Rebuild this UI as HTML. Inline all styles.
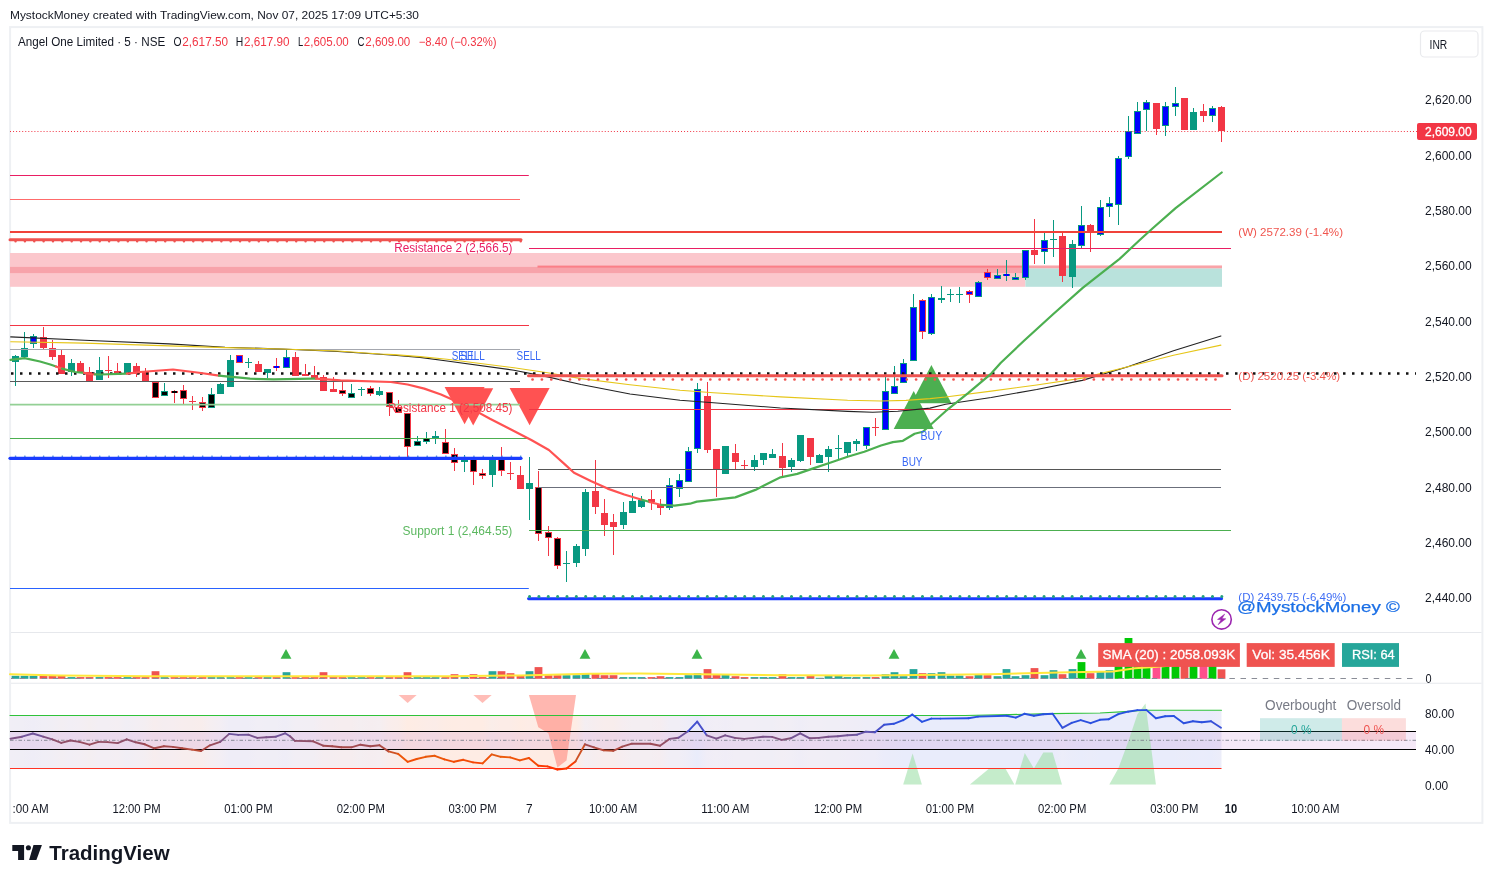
<!DOCTYPE html>
<html><head><meta charset="utf-8"><title>Angel One Limited chart</title>
<style>html,body{margin:0;padding:0;background:#fff}svg{display:block;font-family:"Liberation Sans", sans-serif}</style>
</head><body>
<svg width="1492" height="883" viewBox="0 0 1492 883">
<rect x="0" y="0" width="1492" height="883" fill="#fff"/>
<rect x="10.1" y="27.1" width="1472.3" height="795.8" fill="#ffffff" stroke="#eef0f3" stroke-width="2"/>
<line x1="11.0" y1="632.5" x2="1481.5" y2="632.5" stroke="#e6e8ec" stroke-width="1.1"/>
<line x1="11.0" y1="683.3" x2="1481.5" y2="683.3" stroke="#e6e8ec" stroke-width="1.1"/>
<text x="10.0" y="18.8" font-size="11" fill="#131722" textLength="409.0" lengthAdjust="spacingAndGlyphs">MystockMoney created with TradingView.com, Nov 07, 2025 17:09 UTC+5:30</text>
<rect x="10.0" y="253.0" width="1015.4" height="33.8" fill="#fbc7cc"/>
<rect x="10.0" y="266.9" width="1015.4" height="6.2" fill="#f7a3aa"/>
<rect x="1025.4" y="268.3" width="196.6" height="18.5" fill="#b9e2dc"/>
<rect x="537.5" y="265.6" width="684.5" height="2.0" fill="#fb7f87"/>
<rect x="1025.4" y="266.0" width="196.6" height="2.3" fill="#f9a3a8"/>
<rect x="15.0" y="355.0" width="1.0" height="31.0" fill="#089981"/>
<rect x="12.0" y="356.0" width="7.0" height="6.0" fill="#089981"/>
<rect x="24.0" y="332.0" width="1.0" height="27.0" fill="#089981"/>
<rect x="21.0" y="348.0" width="7.0" height="9.0" fill="#089981"/>
<rect x="33.0" y="334.0" width="1.0" height="14.0" fill="#089981"/>
<rect x="30.0" y="336.0" width="7.0" height="8.0" fill="#089981"/>
<rect x="31.0" y="337.0" width="5.0" height="6.0" fill="#0000ff"/>
<rect x="43.0" y="327.0" width="1.0" height="22.0" fill="#f23645"/>
<rect x="40.0" y="337.0" width="7.0" height="11.0" fill="#f23645"/>
<rect x="52.0" y="340.0" width="1.0" height="20.0" fill="#f23645"/>
<rect x="49.0" y="348.0" width="7.0" height="9.0" fill="#f23645"/>
<rect x="61.0" y="350.0" width="1.0" height="24.0" fill="#f23645"/>
<rect x="58.0" y="355.0" width="7.0" height="19.0" fill="#f23645"/>
<rect x="71.0" y="359.0" width="1.0" height="17.0" fill="#089981"/>
<rect x="68.0" y="363.0" width="7.0" height="9.0" fill="#089981"/>
<rect x="80.0" y="361.0" width="1.0" height="11.0" fill="#f23645"/>
<rect x="77.0" y="363.0" width="7.0" height="9.0" fill="#f23645"/>
<rect x="89.0" y="367.0" width="1.0" height="14.0" fill="#f23645"/>
<rect x="86.0" y="372.0" width="7.0" height="9.0" fill="#f23645"/>
<rect x="99.0" y="357.0" width="1.0" height="23.0" fill="#089981"/>
<rect x="96.0" y="370.0" width="7.0" height="10.0" fill="#089981"/>
<rect x="108.0" y="356.0" width="1.0" height="22.0" fill="#f23645"/>
<rect x="105.0" y="370.0" width="7.0" height="1.0" fill="#f23645"/>
<rect x="117.0" y="363.0" width="1.0" height="11.0" fill="#f23645"/>
<rect x="114.0" y="371.0" width="7.0" height="3.0" fill="#f23645"/>
<rect x="127.0" y="363.0" width="1.0" height="11.0" fill="#089981"/>
<rect x="124.0" y="363.0" width="7.0" height="11.0" fill="#089981"/>
<rect x="136.0" y="363.0" width="1.0" height="14.0" fill="#f23645"/>
<rect x="133.0" y="366.0" width="7.0" height="8.0" fill="#f23645"/>
<rect x="145.0" y="368.0" width="1.0" height="13.0" fill="#f23645"/>
<rect x="142.0" y="371.0" width="7.0" height="10.0" fill="#f23645"/>
<rect x="155.0" y="382.0" width="1.0" height="16.0" fill="#f23645"/>
<rect x="152.0" y="382.0" width="7.0" height="16.0" fill="#f23645"/>
<rect x="153.0" y="383.0" width="5.0" height="14.0" fill="#000000"/>
<rect x="164.0" y="383.0" width="1.0" height="13.0" fill="#089981"/>
<rect x="161.0" y="391.0" width="7.0" height="5.0" fill="#089981"/>
<rect x="162.0" y="392.0" width="5.0" height="3.0" fill="#000000"/>
<rect x="174.0" y="390.0" width="1.0" height="13.0" fill="#f23645"/>
<rect x="171.0" y="391.0" width="7.0" height="2.0" fill="#f23645"/>
<rect x="172.0" y="391.0" width="5.0" height="2.0" fill="#000000"/>
<rect x="183.0" y="385.0" width="1.0" height="19.0" fill="#f23645"/>
<rect x="180.0" y="390.0" width="7.0" height="9.0" fill="#f23645"/>
<rect x="181.0" y="391.0" width="5.0" height="7.0" fill="#000000"/>
<rect x="192.0" y="396.0" width="1.0" height="14.0" fill="#f23645"/>
<rect x="189.0" y="401.0" width="7.0" height="1.0" fill="#f23645"/>
<rect x="202.0" y="397.0" width="1.0" height="14.0" fill="#f23645"/>
<rect x="199.0" y="402.0" width="7.0" height="6.0" fill="#f23645"/>
<rect x="200.0" y="403.0" width="5.0" height="4.0" fill="#000000"/>
<rect x="211.0" y="388.0" width="1.0" height="20.0" fill="#089981"/>
<rect x="208.0" y="394.0" width="7.0" height="14.0" fill="#089981"/>
<rect x="209.0" y="395.0" width="5.0" height="12.0" fill="#000000"/>
<rect x="220.0" y="383.0" width="1.0" height="11.0" fill="#089981"/>
<rect x="217.0" y="384.0" width="7.0" height="10.0" fill="#089981"/>
<rect x="230.0" y="355.0" width="1.0" height="32.0" fill="#089981"/>
<rect x="227.0" y="360.0" width="7.0" height="27.0" fill="#089981"/>
<rect x="239.0" y="355.0" width="1.0" height="8.0" fill="#f23645"/>
<rect x="236.0" y="355.0" width="7.0" height="8.0" fill="#f23645"/>
<rect x="237.0" y="356.0" width="5.0" height="6.0" fill="#0000ff"/>
<rect x="248.0" y="358.0" width="1.0" height="10.0" fill="#089981"/>
<rect x="245.0" y="362.0" width="7.0" height="1.0" fill="#089981"/>
<rect x="258.0" y="361.0" width="1.0" height="11.0" fill="#f23645"/>
<rect x="255.0" y="364.0" width="7.0" height="8.0" fill="#f23645"/>
<rect x="267.0" y="369.0" width="1.0" height="9.0" fill="#089981"/>
<rect x="264.0" y="369.0" width="7.0" height="4.0" fill="#089981"/>
<rect x="276.0" y="358.0" width="1.0" height="13.0" fill="#f23645"/>
<rect x="273.0" y="366.0" width="7.0" height="2.0" fill="#f23645"/>
<rect x="274.0" y="366.0" width="5.0" height="2.0" fill="#0000ff"/>
<rect x="286.0" y="350.0" width="1.0" height="18.0" fill="#089981"/>
<rect x="283.0" y="357.0" width="7.0" height="11.0" fill="#089981"/>
<rect x="284.0" y="358.0" width="5.0" height="9.0" fill="#0000ff"/>
<rect x="295.0" y="352.0" width="1.0" height="24.0" fill="#f23645"/>
<rect x="292.0" y="357.0" width="7.0" height="19.0" fill="#f23645"/>
<rect x="305.0" y="364.0" width="1.0" height="12.0" fill="#f23645"/>
<rect x="302.0" y="374.0" width="7.0" height="2.0" fill="#f23645"/>
<rect x="314.0" y="366.0" width="1.0" height="13.0" fill="#f23645"/>
<rect x="311.0" y="375.0" width="7.0" height="4.0" fill="#f23645"/>
<rect x="323.0" y="375.0" width="1.0" height="16.0" fill="#f23645"/>
<rect x="320.0" y="377.0" width="7.0" height="14.0" fill="#f23645"/>
<rect x="333.0" y="377.0" width="1.0" height="15.0" fill="#f23645"/>
<rect x="330.0" y="389.0" width="7.0" height="3.0" fill="#f23645"/>
<rect x="342.0" y="380.0" width="1.0" height="16.0" fill="#f23645"/>
<rect x="339.0" y="390.0" width="7.0" height="4.0" fill="#f23645"/>
<rect x="340.0" y="391.0" width="5.0" height="2.0" fill="#000000"/>
<rect x="351.0" y="384.0" width="1.0" height="14.0" fill="#089981"/>
<rect x="348.0" y="393.0" width="7.0" height="5.0" fill="#089981"/>
<rect x="349.0" y="394.0" width="5.0" height="3.0" fill="#000000"/>
<rect x="361.0" y="387.0" width="1.0" height="9.0" fill="#089981"/>
<rect x="358.0" y="389.0" width="7.0" height="1.0" fill="#089981"/>
<rect x="370.0" y="386.0" width="1.0" height="10.0" fill="#f23645"/>
<rect x="367.0" y="388.0" width="7.0" height="6.0" fill="#f23645"/>
<rect x="368.0" y="389.0" width="5.0" height="4.0" fill="#000000"/>
<rect x="379.0" y="387.0" width="1.0" height="9.0" fill="#089981"/>
<rect x="376.0" y="391.0" width="7.0" height="4.0" fill="#089981"/>
<rect x="389.0" y="392.0" width="1.0" height="24.0" fill="#f23645"/>
<rect x="386.0" y="392.0" width="7.0" height="15.0" fill="#f23645"/>
<rect x="387.0" y="393.0" width="5.0" height="13.0" fill="#000000"/>
<rect x="398.0" y="400.0" width="1.0" height="13.0" fill="#f23645"/>
<rect x="395.0" y="407.0" width="7.0" height="6.0" fill="#f23645"/>
<rect x="396.0" y="408.0" width="5.0" height="4.0" fill="#000000"/>
<rect x="407.0" y="413.0" width="1.0" height="46.0" fill="#f23645"/>
<rect x="404.0" y="413.0" width="7.0" height="34.0" fill="#f23645"/>
<rect x="405.0" y="414.0" width="5.0" height="32.0" fill="#000000"/>
<rect x="417.0" y="436.0" width="1.0" height="10.0" fill="#089981"/>
<rect x="414.0" y="441.0" width="7.0" height="5.0" fill="#089981"/>
<rect x="415.0" y="442.0" width="5.0" height="3.0" fill="#000000"/>
<rect x="426.0" y="432.0" width="1.0" height="12.0" fill="#089981"/>
<rect x="423.0" y="438.0" width="7.0" height="4.0" fill="#089981"/>
<rect x="424.0" y="439.0" width="5.0" height="2.0" fill="#000000"/>
<rect x="435.0" y="431.0" width="1.0" height="13.0" fill="#089981"/>
<rect x="432.0" y="436.0" width="7.0" height="2.0" fill="#089981"/>
<rect x="445.0" y="429.0" width="1.0" height="25.0" fill="#f23645"/>
<rect x="442.0" y="442.0" width="7.0" height="12.0" fill="#f23645"/>
<rect x="443.0" y="443.0" width="5.0" height="10.0" fill="#000000"/>
<rect x="454.0" y="448.0" width="1.0" height="23.0" fill="#f23645"/>
<rect x="451.0" y="454.0" width="7.0" height="9.0" fill="#f23645"/>
<rect x="452.0" y="455.0" width="5.0" height="7.0" fill="#000000"/>
<rect x="464.0" y="455.0" width="1.0" height="17.0" fill="#089981"/>
<rect x="461.0" y="460.0" width="7.0" height="2.0" fill="#089981"/>
<rect x="473.0" y="459.0" width="1.0" height="26.0" fill="#f23645"/>
<rect x="470.0" y="459.0" width="7.0" height="13.0" fill="#f23645"/>
<rect x="471.0" y="460.0" width="5.0" height="11.0" fill="#000000"/>
<rect x="482.0" y="469.0" width="1.0" height="10.0" fill="#f23645"/>
<rect x="479.0" y="473.0" width="7.0" height="3.0" fill="#f23645"/>
<rect x="480.0" y="474.0" width="5.0" height="1.0" fill="#000000"/>
<rect x="492.0" y="455.0" width="1.0" height="32.0" fill="#089981"/>
<rect x="489.0" y="459.0" width="7.0" height="16.0" fill="#089981"/>
<rect x="501.0" y="447.0" width="1.0" height="29.0" fill="#f23645"/>
<rect x="498.0" y="459.0" width="7.0" height="12.0" fill="#f23645"/>
<rect x="499.0" y="460.0" width="5.0" height="10.0" fill="#000000"/>
<rect x="510.0" y="462.0" width="1.0" height="18.0" fill="#f23645"/>
<rect x="507.0" y="473.0" width="7.0" height="1.0" fill="#f23645"/>
<rect x="520.0" y="466.0" width="1.0" height="23.0" fill="#f23645"/>
<rect x="517.0" y="475.0" width="7.0" height="14.0" fill="#f23645"/>
<rect x="529.0" y="457.0" width="1.0" height="63.0" fill="#089981"/>
<rect x="526.0" y="483.0" width="7.0" height="6.0" fill="#089981"/>
<rect x="538.0" y="471.0" width="1.0" height="70.0" fill="#f23645"/>
<rect x="535.0" y="487.0" width="7.0" height="47.0" fill="#f23645"/>
<rect x="536.0" y="488.0" width="5.0" height="45.0" fill="#000000"/>
<rect x="548.0" y="526.0" width="1.0" height="30.0" fill="#f23645"/>
<rect x="545.0" y="532.0" width="7.0" height="6.0" fill="#f23645"/>
<rect x="546.0" y="533.0" width="5.0" height="4.0" fill="#000000"/>
<rect x="557.0" y="537.0" width="1.0" height="32.0" fill="#f23645"/>
<rect x="554.0" y="538.0" width="7.0" height="28.0" fill="#f23645"/>
<rect x="555.0" y="539.0" width="5.0" height="26.0" fill="#000000"/>
<rect x="566.0" y="551.0" width="1.0" height="31.0" fill="#089981"/>
<rect x="563.0" y="563.0" width="7.0" height="1.0" fill="#089981"/>
<rect x="576.0" y="544.0" width="1.0" height="23.0" fill="#089981"/>
<rect x="573.0" y="546.0" width="7.0" height="17.0" fill="#089981"/>
<rect x="585.0" y="489.0" width="1.0" height="67.0" fill="#089981"/>
<rect x="582.0" y="492.0" width="7.0" height="57.0" fill="#089981"/>
<rect x="595.0" y="460.0" width="1.0" height="54.0" fill="#f23645"/>
<rect x="592.0" y="491.0" width="7.0" height="16.0" fill="#f23645"/>
<rect x="604.0" y="499.0" width="1.0" height="37.0" fill="#f23645"/>
<rect x="601.0" y="513.0" width="7.0" height="12.0" fill="#f23645"/>
<rect x="613.0" y="514.0" width="1.0" height="41.0" fill="#f23645"/>
<rect x="610.0" y="522.0" width="7.0" height="5.0" fill="#f23645"/>
<rect x="623.0" y="502.0" width="1.0" height="27.0" fill="#089981"/>
<rect x="620.0" y="512.0" width="7.0" height="13.0" fill="#089981"/>
<rect x="632.0" y="493.0" width="1.0" height="20.0" fill="#089981"/>
<rect x="629.0" y="501.0" width="7.0" height="12.0" fill="#089981"/>
<rect x="641.0" y="496.0" width="1.0" height="12.0" fill="#089981"/>
<rect x="638.0" y="500.0" width="7.0" height="7.0" fill="#089981"/>
<rect x="651.0" y="490.0" width="1.0" height="20.0" fill="#f23645"/>
<rect x="648.0" y="499.0" width="7.0" height="3.0" fill="#f23645"/>
<rect x="660.0" y="499.0" width="1.0" height="16.0" fill="#f23645"/>
<rect x="657.0" y="504.0" width="7.0" height="4.0" fill="#f23645"/>
<rect x="669.0" y="478.0" width="1.0" height="32.0" fill="#089981"/>
<rect x="666.0" y="485.0" width="7.0" height="23.0" fill="#089981"/>
<rect x="667.0" y="486.0" width="5.0" height="21.0" fill="#0000ff"/>
<rect x="679.0" y="474.0" width="1.0" height="23.0" fill="#089981"/>
<rect x="676.0" y="480.0" width="7.0" height="9.0" fill="#089981"/>
<rect x="677.0" y="481.0" width="5.0" height="7.0" fill="#0000ff"/>
<rect x="688.0" y="447.0" width="1.0" height="35.0" fill="#089981"/>
<rect x="685.0" y="451.0" width="7.0" height="31.0" fill="#089981"/>
<rect x="686.0" y="452.0" width="5.0" height="29.0" fill="#0000ff"/>
<rect x="697.0" y="383.0" width="1.0" height="70.0" fill="#089981"/>
<rect x="694.0" y="389.0" width="7.0" height="60.0" fill="#089981"/>
<rect x="695.0" y="390.0" width="5.0" height="58.0" fill="#0000ff"/>
<rect x="707.0" y="382.0" width="1.0" height="71.0" fill="#f23645"/>
<rect x="704.0" y="396.0" width="7.0" height="54.0" fill="#f23645"/>
<rect x="716.0" y="449.0" width="1.0" height="48.0" fill="#f23645"/>
<rect x="713.0" y="449.0" width="7.0" height="20.0" fill="#f23645"/>
<rect x="725.0" y="446.0" width="1.0" height="28.0" fill="#089981"/>
<rect x="722.0" y="446.0" width="7.0" height="28.0" fill="#089981"/>
<rect x="735.0" y="444.0" width="1.0" height="25.0" fill="#f23645"/>
<rect x="732.0" y="453.0" width="7.0" height="9.0" fill="#f23645"/>
<rect x="744.0" y="460.0" width="1.0" height="9.0" fill="#f23645"/>
<rect x="741.0" y="465.0" width="7.0" height="1.0" fill="#f23645"/>
<rect x="754.0" y="455.0" width="1.0" height="16.0" fill="#089981"/>
<rect x="751.0" y="460.0" width="7.0" height="7.0" fill="#089981"/>
<rect x="763.0" y="453.0" width="1.0" height="12.0" fill="#089981"/>
<rect x="760.0" y="453.0" width="7.0" height="7.0" fill="#089981"/>
<rect x="772.0" y="449.0" width="1.0" height="9.0" fill="#089981"/>
<rect x="769.0" y="454.0" width="7.0" height="4.0" fill="#089981"/>
<rect x="782.0" y="443.0" width="1.0" height="33.0" fill="#f23645"/>
<rect x="779.0" y="456.0" width="7.0" height="12.0" fill="#f23645"/>
<rect x="791.0" y="458.0" width="1.0" height="14.0" fill="#089981"/>
<rect x="788.0" y="460.0" width="7.0" height="7.0" fill="#089981"/>
<rect x="800.0" y="435.0" width="1.0" height="27.0" fill="#089981"/>
<rect x="797.0" y="435.0" width="7.0" height="26.0" fill="#089981"/>
<rect x="810.0" y="438.0" width="1.0" height="27.0" fill="#f23645"/>
<rect x="807.0" y="438.0" width="7.0" height="19.0" fill="#f23645"/>
<rect x="819.0" y="454.0" width="1.0" height="9.0" fill="#089981"/>
<rect x="816.0" y="455.0" width="7.0" height="8.0" fill="#089981"/>
<rect x="828.0" y="446.0" width="1.0" height="26.0" fill="#089981"/>
<rect x="825.0" y="449.0" width="7.0" height="8.0" fill="#089981"/>
<rect x="838.0" y="435.0" width="1.0" height="25.0" fill="#089981"/>
<rect x="835.0" y="448.0" width="7.0" height="1.0" fill="#089981"/>
<rect x="847.0" y="442.0" width="1.0" height="15.0" fill="#089981"/>
<rect x="844.0" y="442.0" width="7.0" height="11.0" fill="#089981"/>
<rect x="856.0" y="439.0" width="1.0" height="12.0" fill="#089981"/>
<rect x="853.0" y="441.0" width="7.0" height="3.0" fill="#089981"/>
<rect x="866.0" y="427.0" width="1.0" height="22.0" fill="#089981"/>
<rect x="863.0" y="427.0" width="7.0" height="19.0" fill="#089981"/>
<rect x="864.0" y="428.0" width="5.0" height="17.0" fill="#0000ff"/>
<rect x="875.0" y="418.0" width="1.0" height="18.0" fill="#f23645"/>
<rect x="872.0" y="427.0" width="7.0" height="1.0" fill="#f23645"/>
<rect x="885.0" y="377.0" width="1.0" height="53.0" fill="#089981"/>
<rect x="882.0" y="391.0" width="7.0" height="39.0" fill="#089981"/>
<rect x="883.0" y="392.0" width="5.0" height="37.0" fill="#0000ff"/>
<rect x="894.0" y="366.0" width="1.0" height="28.0" fill="#089981"/>
<rect x="891.0" y="386.0" width="7.0" height="8.0" fill="#089981"/>
<rect x="892.0" y="387.0" width="5.0" height="6.0" fill="#0000ff"/>
<rect x="903.0" y="359.0" width="1.0" height="24.0" fill="#089981"/>
<rect x="900.0" y="363.0" width="7.0" height="20.0" fill="#089981"/>
<rect x="901.0" y="364.0" width="5.0" height="18.0" fill="#0000ff"/>
<rect x="913.0" y="294.0" width="1.0" height="67.0" fill="#089981"/>
<rect x="910.0" y="307.0" width="7.0" height="54.0" fill="#089981"/>
<rect x="911.0" y="308.0" width="5.0" height="52.0" fill="#0000ff"/>
<rect x="922.0" y="299.0" width="1.0" height="40.0" fill="#f23645"/>
<rect x="919.0" y="300.0" width="7.0" height="32.0" fill="#f23645"/>
<rect x="920.0" y="301.0" width="5.0" height="30.0" fill="#0000ff"/>
<rect x="931.0" y="294.0" width="1.0" height="41.0" fill="#089981"/>
<rect x="928.0" y="297.0" width="7.0" height="37.0" fill="#089981"/>
<rect x="929.0" y="298.0" width="5.0" height="35.0" fill="#0000ff"/>
<rect x="941.0" y="286.0" width="1.0" height="17.0" fill="#089981"/>
<rect x="938.0" y="298.0" width="7.0" height="2.0" fill="#089981"/>
<rect x="950.0" y="289.0" width="1.0" height="13.0" fill="#089981"/>
<rect x="947.0" y="294.0" width="7.0" height="1.0" fill="#089981"/>
<rect x="959.0" y="287.0" width="1.0" height="16.0" fill="#089981"/>
<rect x="956.0" y="294.0" width="7.0" height="1.0" fill="#089981"/>
<rect x="969.0" y="290.0" width="1.0" height="13.0" fill="#f23645"/>
<rect x="966.0" y="291.0" width="7.0" height="4.0" fill="#f23645"/>
<rect x="967.0" y="292.0" width="5.0" height="2.0" fill="#0000ff"/>
<rect x="978.0" y="281.0" width="1.0" height="16.0" fill="#089981"/>
<rect x="975.0" y="282.0" width="7.0" height="15.0" fill="#089981"/>
<rect x="976.0" y="283.0" width="5.0" height="13.0" fill="#0000ff"/>
<rect x="987.0" y="269.0" width="1.0" height="11.0" fill="#f23645"/>
<rect x="984.0" y="272.0" width="7.0" height="6.0" fill="#f23645"/>
<rect x="985.0" y="273.0" width="5.0" height="4.0" fill="#0000ff"/>
<rect x="997.0" y="269.0" width="1.0" height="10.0" fill="#089981"/>
<rect x="994.0" y="275.0" width="7.0" height="4.0" fill="#089981"/>
<rect x="995.0" y="276.0" width="5.0" height="2.0" fill="#0000ff"/>
<rect x="1006.0" y="260.0" width="1.0" height="21.0" fill="#089981"/>
<rect x="1003.0" y="274.0" width="7.0" height="2.0" fill="#089981"/>
<rect x="1004.0" y="274.0" width="5.0" height="2.0" fill="#0000ff"/>
<rect x="1015.0" y="273.0" width="1.0" height="7.0" fill="#089981"/>
<rect x="1012.0" y="277.0" width="7.0" height="3.0" fill="#089981"/>
<rect x="1013.0" y="278.0" width="5.0" height="1.0" fill="#0000ff"/>
<rect x="1025.0" y="250.0" width="1.0" height="30.0" fill="#089981"/>
<rect x="1022.0" y="250.0" width="7.0" height="28.0" fill="#089981"/>
<rect x="1023.0" y="251.0" width="5.0" height="26.0" fill="#0000ff"/>
<rect x="1034.0" y="219.0" width="1.0" height="45.0" fill="#f23645"/>
<rect x="1031.0" y="250.0" width="7.0" height="5.0" fill="#f23645"/>
<rect x="1044.0" y="233.0" width="1.0" height="31.0" fill="#089981"/>
<rect x="1041.0" y="240.0" width="7.0" height="12.0" fill="#089981"/>
<rect x="1042.0" y="241.0" width="5.0" height="10.0" fill="#0000ff"/>
<rect x="1053.0" y="220.0" width="1.0" height="37.0" fill="#089981"/>
<rect x="1050.0" y="239.0" width="7.0" height="1.0" fill="#089981"/>
<rect x="1062.0" y="233.0" width="1.0" height="49.0" fill="#f23645"/>
<rect x="1059.0" y="236.0" width="7.0" height="40.0" fill="#f23645"/>
<rect x="1072.0" y="240.0" width="1.0" height="48.0" fill="#089981"/>
<rect x="1069.0" y="244.0" width="7.0" height="33.0" fill="#089981"/>
<rect x="1081.0" y="206.0" width="1.0" height="42.0" fill="#089981"/>
<rect x="1078.0" y="225.0" width="7.0" height="21.0" fill="#089981"/>
<rect x="1079.0" y="226.0" width="5.0" height="19.0" fill="#0000ff"/>
<rect x="1090.0" y="224.0" width="1.0" height="28.0" fill="#f23645"/>
<rect x="1087.0" y="225.0" width="7.0" height="8.0" fill="#f23645"/>
<rect x="1100.0" y="200.0" width="1.0" height="36.0" fill="#089981"/>
<rect x="1097.0" y="207.0" width="7.0" height="28.0" fill="#089981"/>
<rect x="1098.0" y="208.0" width="5.0" height="26.0" fill="#0000ff"/>
<rect x="1109.0" y="197.0" width="1.0" height="20.0" fill="#089981"/>
<rect x="1106.0" y="203.0" width="7.0" height="4.0" fill="#089981"/>
<rect x="1107.0" y="204.0" width="5.0" height="2.0" fill="#0000ff"/>
<rect x="1118.0" y="156.0" width="1.0" height="69.0" fill="#089981"/>
<rect x="1115.0" y="158.0" width="7.0" height="47.0" fill="#089981"/>
<rect x="1116.0" y="159.0" width="5.0" height="45.0" fill="#0000ff"/>
<rect x="1128.0" y="116.0" width="1.0" height="43.0" fill="#089981"/>
<rect x="1125.0" y="131.0" width="7.0" height="26.0" fill="#089981"/>
<rect x="1126.0" y="132.0" width="5.0" height="24.0" fill="#0000ff"/>
<rect x="1137.0" y="102.0" width="1.0" height="32.0" fill="#089981"/>
<rect x="1134.0" y="111.0" width="7.0" height="23.0" fill="#089981"/>
<rect x="1135.0" y="112.0" width="5.0" height="21.0" fill="#0000ff"/>
<rect x="1146.0" y="100.0" width="1.0" height="31.0" fill="#089981"/>
<rect x="1143.0" y="102.0" width="7.0" height="8.0" fill="#089981"/>
<rect x="1144.0" y="103.0" width="5.0" height="6.0" fill="#0000ff"/>
<rect x="1156.0" y="103.0" width="1.0" height="32.0" fill="#f23645"/>
<rect x="1153.0" y="103.0" width="7.0" height="26.0" fill="#f23645"/>
<rect x="1165.0" y="102.0" width="1.0" height="34.0" fill="#089981"/>
<rect x="1162.0" y="106.0" width="7.0" height="20.0" fill="#089981"/>
<rect x="1163.0" y="107.0" width="5.0" height="18.0" fill="#0000ff"/>
<rect x="1175.0" y="87.0" width="1.0" height="29.0" fill="#089981"/>
<rect x="1172.0" y="103.0" width="7.0" height="4.0" fill="#089981"/>
<rect x="1173.0" y="104.0" width="5.0" height="2.0" fill="#0000ff"/>
<rect x="1184.0" y="98.0" width="1.0" height="32.0" fill="#f23645"/>
<rect x="1181.0" y="98.0" width="7.0" height="32.0" fill="#f23645"/>
<rect x="1193.0" y="108.0" width="1.0" height="22.0" fill="#089981"/>
<rect x="1190.0" y="112.0" width="7.0" height="18.0" fill="#089981"/>
<rect x="1203.0" y="104.0" width="1.0" height="18.0" fill="#f23645"/>
<rect x="1200.0" y="111.0" width="7.0" height="5.0" fill="#f23645"/>
<rect x="1212.0" y="106.0" width="1.0" height="16.0" fill="#089981"/>
<rect x="1209.0" y="108.0" width="7.0" height="8.0" fill="#089981"/>
<rect x="1210.0" y="109.0" width="5.0" height="6.0" fill="#0000ff"/>
<rect x="1221.0" y="106.0" width="1.0" height="36.0" fill="#f23645"/>
<rect x="1218.0" y="107.0" width="7.0" height="24.0" fill="#f23645"/>
<polygon points="444.6,386.9 484.6,386.9 464.6,424.2" fill="#ff5252"/>
<polygon points="453.2,388.2 493.2,388.2 473.2,425.5" fill="#ff5252"/>
<polygon points="509.6,387.9 549.6,387.9 529.6,425.2" fill="#ff5252"/>
<polygon points="913.7,391.1 933.7,428.9 893.7,428.9" fill="#4caf50"/>
<polygon points="931.4,364.9 951.4,403.2 911.4,403.2" fill="#4caf50"/>
<line x1="10.0" y1="175.5" x2="528.8" y2="175.5" stroke="#e91e63" stroke-width="1"/>
<line x1="10.0" y1="199.5" x2="520.0" y2="199.5" stroke="#ff6b6b" stroke-width="1"/>
<line x1="10.0" y1="231.9" x2="1222.0" y2="231.9" stroke="#f0423a" stroke-width="2"/>
<line x1="10.0" y1="239.8" x2="521.0" y2="239.8" stroke="#ef5350" stroke-width="3" stroke-linecap="round"/>
<line x1="15.5" y1="241.3" x2="521" y2="241.3" stroke="#ef5350" stroke-width="2.4" stroke-dasharray="0.1 9.255" stroke-linecap="round"/>
<line x1="529.0" y1="248.5" x2="1231.0" y2="248.5" stroke="#e91e63" stroke-width="1"/>
<line x1="10.0" y1="325.5" x2="529.0" y2="325.5" stroke="#f23645" stroke-width="1"/>
<line x1="10.0" y1="349.5" x2="520.0" y2="349.5" stroke="#a4a7ae" stroke-width="1.2"/>
<line x1="10.0" y1="381.5" x2="520.0" y2="381.5" stroke="#5a5a5a" stroke-width="1.2"/>
<line x1="10.0" y1="404.7" x2="520.0" y2="404.7" stroke="#93d095" stroke-width="1.8"/>
<line x1="529.0" y1="409.5" x2="1231.0" y2="409.5" stroke="#f23645" stroke-width="1"/>
<line x1="10.0" y1="438.5" x2="529.0" y2="438.5" stroke="#4caf50" stroke-width="1"/>
<line x1="538.0" y1="469.5" x2="1221.0" y2="469.5" stroke="#555555" stroke-width="1.2"/>
<line x1="538.0" y1="487.5" x2="1221.0" y2="487.5" stroke="#6b6f7b" stroke-width="1.2"/>
<line x1="529.0" y1="530.5" x2="1231.0" y2="530.5" stroke="#4caf50" stroke-width="1"/>
<line x1="10.0" y1="588.5" x2="528.8" y2="588.5" stroke="#2962ff" stroke-width="1"/>
<line x1="10.0" y1="458.3" x2="521.0" y2="458.3" stroke="#1a3cff" stroke-width="3.2" stroke-linecap="round"/>
<line x1="15.5" y1="456.3" x2="521" y2="456.3" stroke="#3f7fe0" stroke-width="1.6" stroke-dasharray="0.1 9.255" stroke-linecap="round"/>
<line x1="528.5" y1="598.7" x2="1221.6" y2="598.7" stroke="#1a3cff" stroke-width="2.9" stroke-linecap="round"/>
<line x1="529.5" y1="596.4" x2="1222" y2="596.4" stroke="#22a07e" stroke-width="3.0" stroke-dasharray="0.1 9.255" stroke-linecap="round"/>
<polyline points="10.7,336.9 84.5,340.3 169.0,343.9 225.0,347.3 281.5,349.0 337.8,351.5 380.0,354.3 394.0,355.2 420.0,357.4 447.0,361.0 514.0,370.2 547.6,376.9 581.0,384.5 630.0,394.0 680.0,400.2 713.5,402.7 780.5,408.0 847.6,411.4 872.7,412.3 897.8,411.3 930.0,408.1 945.6,404.3 991.2,397.5 1036.7,389.5 1082.3,380.4 1127.9,366.7 1173.5,350.8 1220.9,336.0" fill="none" stroke="#222222" stroke-width="1.1" stroke-linejoin="round" stroke-linecap="round"/>
<polyline points="10.7,341.7 84.5,343.1 169.0,345.9 225.0,347.6 281.5,349.0 337.8,351.0 380.0,354.0 394.0,354.6 420.0,356.6 447.0,359.3 514.0,367.7 547.6,372.7 581.0,378.6 630.0,384.8 680.0,390.2 713.5,392.7 780.5,396.9 847.6,400.2 881.0,401.0 906.0,400.4 930.0,398.6 945.6,397.0 991.2,391.1 1036.7,385.0 1082.3,378.1 1127.9,366.7 1173.5,355.3 1220.9,345.1" fill="none" stroke="#e6c619" stroke-width="1.1" stroke-linejoin="round" stroke-linecap="round"/>
<line x1="10" y1="373.5" x2="1416" y2="373.5" stroke="#111111" stroke-width="2.4" stroke-dasharray="2.5 6.5" stroke-dashoffset="-1"/>
<line x1="528.5" y1="375.8" x2="1222.0" y2="375.8" stroke="#ef5350" stroke-width="3" stroke-linecap="round"/>
<line x1="532.5" y1="379.5" x2="1222" y2="379.5" stroke="#ef5350" stroke-width="2.7" stroke-dasharray="0.1 9.255" stroke-linecap="round"/>
<polyline points="10.5,359.8 24.6,358.1 40.0,361.5 50.3,364.5 56.0,366.5" fill="none" stroke="#4caf50" stroke-width="2.2" stroke-linejoin="round" stroke-linecap="round"/>
<polyline points="56.0,366.5 62.0,368.6" fill="none" stroke="#ff5252" stroke-width="2.2" stroke-linejoin="round" stroke-linecap="round"/>
<polyline points="62.0,368.6 75.0,372.0 84.0,372.8" fill="none" stroke="#4caf50" stroke-width="2.2" stroke-linejoin="round" stroke-linecap="round"/>
<polyline points="84.0,372.8 90.0,374.0 95.0,374.3" fill="none" stroke="#ff5252" stroke-width="2.2" stroke-linejoin="round" stroke-linecap="round"/>
<polyline points="95.0,374.3 100.0,374.5 127.0,373.7" fill="none" stroke="#4caf50" stroke-width="2.2" stroke-linejoin="round" stroke-linecap="round"/>
<polyline points="127.0,373.7 136.0,372.6 140.0,372.0 173.0,369.5 201.0,373.0 219.0,375.7" fill="none" stroke="#ff5252" stroke-width="2.2" stroke-linejoin="round" stroke-linecap="round"/>
<polyline points="219.0,375.7 226.0,376.4 240.0,377.6 250.0,378.7 273.5,379.4 312.0,378.6 316.0,378.7" fill="none" stroke="#4caf50" stroke-width="2.2" stroke-linejoin="round" stroke-linecap="round"/>
<polyline points="316.0,378.7 340.5,380.3 390.8,382.0 407.6,384.5 424.3,388.6 441.0,394.5 457.8,402.0 474.6,410.4 490.0,418.8 510.0,429.0 531.3,440.0 548.9,450.0 565.7,465.1 574.0,472.7 590.8,481.0 607.6,488.6 624.3,494.5 641.0,499.5 642.0,499.8" fill="none" stroke="#ff5252" stroke-width="2.2" stroke-linejoin="round" stroke-linecap="round"/>
<polyline points="642.0,499.8 648.0,501.5 649.5,502.0" fill="none" stroke="#4caf50" stroke-width="2.2" stroke-linejoin="round" stroke-linecap="round"/>
<polyline points="649.5,502.0 659.5,504.5 661.0,504.8" fill="none" stroke="#ff5252" stroke-width="2.2" stroke-linejoin="round" stroke-linecap="round"/>
<polyline points="661.0,504.8 674.6,505.7 690.0,503.7 696.8,501.6 713.5,499.9 735.3,497.4 755.4,489.9 780.5,477.3 797.3,473.9 814.0,468.1 830.8,462.5 847.6,456.8 864.3,451.8 881.0,445.5 892.8,442.1 902.9,440.8 914.6,433.7 922.8,431.7 945.6,411.2 968.4,392.9 991.2,373.6 1000.6,363.0 1024.0,340.7 1052.5,314.7 1082.7,287.9 1119.6,258.9 1140.0,239.8 1153.0,228.0 1175.6,208.2 1221.7,172.5" fill="none" stroke="#4caf50" stroke-width="2.2" stroke-linejoin="round" stroke-linecap="round"/>
<text x="451.7" y="360.1" font-size="13" fill="#3868f5" textLength="24.3" lengthAdjust="spacingAndGlyphs">SELL</text>
<text x="460.4" y="360.1" font-size="13" fill="#3868f5" textLength="24.3" lengthAdjust="spacingAndGlyphs">SELL</text>
<text x="516.6" y="360.1" font-size="13" fill="#3868f5" textLength="24.3" lengthAdjust="spacingAndGlyphs">SELL</text>
<text x="920.5" y="440.2" font-size="13" fill="#3868f5" textLength="21.7" lengthAdjust="spacingAndGlyphs">BUY</text>
<text x="902.0" y="466.1" font-size="13" fill="#3868f5" textLength="20.5" lengthAdjust="spacingAndGlyphs">BUY</text>
<text x="394.2" y="252.3" font-size="12" fill="#e91e63" textLength="118.2" lengthAdjust="spacingAndGlyphs">Resistance 2 (2,566.5)</text>
<text x="388.0" y="412.3" font-size="12" fill="#f23645" textLength="124.4" lengthAdjust="spacingAndGlyphs">Resistance 1 (2,508.45)</text>
<text x="402.5" y="534.5" font-size="12" fill="#5cb860" textLength="109.8" lengthAdjust="spacingAndGlyphs">Support 1 (2,464.55)</text>
<text x="1238.3" y="235.9" font-size="11.5" fill="#f0554e" textLength="104.7" lengthAdjust="spacingAndGlyphs">(W) 2572.39 (-1.4%)</text>
<text x="1238.3" y="380.1" font-size="11.5" fill="#f0554e" textLength="101.7" lengthAdjust="spacingAndGlyphs">(D) 2520.25 (-3.4%)</text>
<text x="1238.3" y="601.4" font-size="11.5" fill="#3f6df5" textLength="108.1" lengthAdjust="spacingAndGlyphs">(D) 2439.75 (-6.49%)</text>
<text x="1237.0" y="611.8" font-size="15" fill="#1b6fe6" textLength="162.8" lengthAdjust="spacingAndGlyphs" stroke="#1b6fe6" stroke-width="0.25">@MystockMoney ©</text>
<circle cx="1221.6" cy="619.4" r="9.7" fill="#fff" stroke="#9c27b0" stroke-width="1.6"/>
<path d="M1224.7 614.1 L1217.5 619.4 L1221.1 619.8 L1218.1 624.7 L1225.8 618.8 L1222.1 618.5 Z" fill="#9c27b0" stroke="#9c27b0" stroke-width="0.5" stroke-linejoin="round"/>
<line x1="10" y1="131.5" x2="1417" y2="131.5" stroke="#f23645" stroke-width="1" stroke-dasharray="1 2.05"/>
<text x="18.1" y="46.0" font-size="12" fill="#131722" textLength="147.1" lengthAdjust="spacingAndGlyphs">Angel One Limited · 5 · NSE</text>
<text x="173.6" y="46.0" font-size="12" fill="#131722" textLength="8.0" lengthAdjust="spacingAndGlyphs">O</text>
<text x="182.3" y="46.0" font-size="12" fill="#f23645" textLength="45.7" lengthAdjust="spacingAndGlyphs">2,617.50</text>
<text x="235.8" y="46.0" font-size="12" fill="#131722" textLength="7.5" lengthAdjust="spacingAndGlyphs">H</text>
<text x="244.0" y="46.0" font-size="12" fill="#f23645" textLength="45.5" lengthAdjust="spacingAndGlyphs">2,617.90</text>
<text x="297.9" y="46.0" font-size="12" fill="#131722" textLength="5.2" lengthAdjust="spacingAndGlyphs">L</text>
<text x="303.8" y="46.0" font-size="12" fill="#f23645" textLength="45.0" lengthAdjust="spacingAndGlyphs">2,605.00</text>
<text x="357.5" y="46.0" font-size="12" fill="#131722" textLength="7.0" lengthAdjust="spacingAndGlyphs">C</text>
<text x="365.3" y="46.0" font-size="12" fill="#f23645" textLength="45.0" lengthAdjust="spacingAndGlyphs">2,609.00</text>
<text x="418.7" y="46.0" font-size="12" fill="#f23645" textLength="77.9" lengthAdjust="spacingAndGlyphs">−8.40 (−0.32%)</text>
<rect x="1420.5" y="31" width="57.5" height="26" rx="4" fill="#fff" stroke="#e9eaed" stroke-width="1.2"/>
<text x="1429.6" y="48.9" font-size="12" fill="#131722" textLength="17.7" lengthAdjust="spacingAndGlyphs">INR</text>
<text x="1425.0" y="104.3" font-size="12" fill="#131722" textLength="46.7" lengthAdjust="spacingAndGlyphs">2,620.00</text>
<text x="1425.0" y="159.6" font-size="12" fill="#131722" textLength="46.7" lengthAdjust="spacingAndGlyphs">2,600.00</text>
<text x="1425.0" y="214.9" font-size="12" fill="#131722" textLength="46.7" lengthAdjust="spacingAndGlyphs">2,580.00</text>
<text x="1425.0" y="270.2" font-size="12" fill="#131722" textLength="46.7" lengthAdjust="spacingAndGlyphs">2,560.00</text>
<text x="1425.0" y="325.6" font-size="12" fill="#131722" textLength="46.7" lengthAdjust="spacingAndGlyphs">2,540.00</text>
<text x="1425.0" y="380.9" font-size="12" fill="#131722" textLength="46.7" lengthAdjust="spacingAndGlyphs">2,520.00</text>
<text x="1425.0" y="436.2" font-size="12" fill="#131722" textLength="46.7" lengthAdjust="spacingAndGlyphs">2,500.00</text>
<text x="1425.0" y="491.5" font-size="12" fill="#131722" textLength="46.7" lengthAdjust="spacingAndGlyphs">2,480.00</text>
<text x="1425.0" y="546.8" font-size="12" fill="#131722" textLength="46.7" lengthAdjust="spacingAndGlyphs">2,460.00</text>
<text x="1425.0" y="602.1" font-size="12" fill="#131722" textLength="46.7" lengthAdjust="spacingAndGlyphs">2,440.00</text>
<rect x="1417" y="123" width="60" height="17" rx="2" fill="#f23645"/>
<text x="1425.0" y="135.9" font-size="12" fill="#ffffff" textLength="46.7" lengthAdjust="spacingAndGlyphs" stroke="#fff" stroke-width="0.3">2,609.00</text>
<rect x="11.6" y="675.8" width="7.8" height="3.0" fill="#26a69a"/>
<rect x="20.6" y="675.8" width="7.8" height="3.0" fill="#26a69a"/>
<rect x="29.6" y="675.8" width="7.8" height="3.0" fill="#26a69a"/>
<rect x="39.6" y="675.8" width="7.8" height="3.0" fill="#ef5350"/>
<rect x="48.6" y="675.8" width="7.8" height="3.0" fill="#ef5350"/>
<rect x="57.6" y="675.8" width="7.8" height="3.0" fill="#ef5350"/>
<rect x="67.6" y="677.1" width="7.8" height="1.7" fill="#26a69a"/>
<rect x="76.6" y="677.1" width="7.8" height="1.7" fill="#ef5350"/>
<rect x="85.6" y="677.1" width="7.8" height="1.7" fill="#ef5350"/>
<rect x="95.6" y="677.1" width="7.8" height="1.7" fill="#26a69a"/>
<rect x="104.6" y="677.1" width="7.8" height="1.7" fill="#ef5350"/>
<rect x="113.6" y="677.1" width="7.8" height="1.7" fill="#ef5350"/>
<rect x="123.6" y="677.1" width="7.8" height="1.7" fill="#26a69a"/>
<rect x="132.6" y="677.1" width="7.8" height="1.7" fill="#ef5350"/>
<rect x="141.6" y="677.1" width="7.8" height="1.7" fill="#ef5350"/>
<rect x="151.6" y="671.2" width="7.8" height="7.6" fill="#ef5350"/>
<rect x="160.6" y="677.1" width="7.8" height="1.7" fill="#26a69a"/>
<rect x="170.6" y="677.1" width="7.8" height="1.7" fill="#ef5350"/>
<rect x="179.6" y="677.1" width="7.8" height="1.7" fill="#ef5350"/>
<rect x="188.6" y="677.1" width="7.8" height="1.7" fill="#ef5350"/>
<rect x="198.6" y="677.1" width="7.8" height="1.7" fill="#ef5350"/>
<rect x="207.6" y="677.1" width="7.8" height="1.7" fill="#26a69a"/>
<rect x="216.6" y="677.1" width="7.8" height="1.7" fill="#26a69a"/>
<rect x="226.6" y="677.1" width="7.8" height="1.7" fill="#26a69a"/>
<rect x="235.6" y="677.1" width="7.8" height="1.7" fill="#ef5350"/>
<rect x="244.6" y="677.1" width="7.8" height="1.7" fill="#26a69a"/>
<rect x="254.6" y="677.1" width="7.8" height="1.7" fill="#ef5350"/>
<rect x="263.6" y="677.1" width="7.8" height="1.7" fill="#26a69a"/>
<rect x="272.6" y="677.1" width="7.8" height="1.7" fill="#ef5350"/>
<rect x="282.6" y="672.2" width="7.8" height="6.6" fill="#26a69a"/>
<rect x="291.6" y="677.1" width="7.8" height="1.7" fill="#ef5350"/>
<rect x="301.6" y="677.1" width="7.8" height="1.7" fill="#ef5350"/>
<rect x="310.6" y="677.1" width="7.8" height="1.7" fill="#ef5350"/>
<rect x="319.6" y="672.2" width="7.8" height="6.6" fill="#ef5350"/>
<rect x="329.6" y="677.1" width="7.8" height="1.7" fill="#ef5350"/>
<rect x="338.6" y="677.1" width="7.8" height="1.7" fill="#ef5350"/>
<rect x="347.6" y="677.1" width="7.8" height="1.7" fill="#26a69a"/>
<rect x="357.6" y="677.1" width="7.8" height="1.7" fill="#26a69a"/>
<rect x="366.6" y="677.1" width="7.8" height="1.7" fill="#ef5350"/>
<rect x="375.6" y="677.1" width="7.8" height="1.7" fill="#26a69a"/>
<rect x="385.6" y="677.1" width="7.8" height="1.7" fill="#ef5350"/>
<rect x="394.6" y="677.1" width="7.8" height="1.7" fill="#ef5350"/>
<rect x="403.6" y="672.2" width="7.8" height="6.6" fill="#ef5350"/>
<rect x="413.6" y="677.1" width="7.8" height="1.7" fill="#26a69a"/>
<rect x="422.6" y="677.1" width="7.8" height="1.7" fill="#26a69a"/>
<rect x="431.6" y="677.1" width="7.8" height="1.7" fill="#26a69a"/>
<rect x="441.6" y="677.1" width="7.8" height="1.7" fill="#ef5350"/>
<rect x="450.6" y="674.2" width="7.8" height="4.6" fill="#ef5350"/>
<rect x="460.6" y="677.1" width="7.8" height="1.7" fill="#26a69a"/>
<rect x="469.6" y="674.2" width="7.8" height="4.6" fill="#ef5350"/>
<rect x="478.6" y="677.1" width="7.8" height="1.7" fill="#ef5350"/>
<rect x="488.6" y="671.2" width="7.8" height="7.6" fill="#26a69a"/>
<rect x="497.6" y="671.2" width="7.8" height="7.6" fill="#ef5350"/>
<rect x="506.6" y="673.2" width="7.8" height="5.6" fill="#ef5350"/>
<rect x="516.6" y="675.8" width="7.8" height="3.0" fill="#ef5350"/>
<rect x="525.6" y="671.2" width="7.8" height="7.6" fill="#26a69a"/>
<rect x="534.6" y="667.1" width="7.8" height="11.7" fill="#ef5350"/>
<rect x="544.6" y="675.2" width="7.8" height="3.6" fill="#ef5350"/>
<rect x="553.6" y="675.2" width="7.8" height="3.6" fill="#ef5350"/>
<rect x="562.6" y="675.2" width="7.8" height="3.6" fill="#26a69a"/>
<rect x="572.6" y="675.2" width="7.8" height="3.6" fill="#26a69a"/>
<rect x="581.6" y="673.2" width="7.8" height="5.6" fill="#26a69a"/>
<rect x="591.6" y="673.2" width="7.8" height="5.6" fill="#ef5350"/>
<rect x="600.6" y="675.2" width="7.8" height="3.6" fill="#ef5350"/>
<rect x="609.6" y="675.2" width="7.8" height="3.6" fill="#ef5350"/>
<rect x="619.6" y="677.1" width="7.8" height="1.7" fill="#26a69a"/>
<rect x="628.6" y="677.1" width="7.8" height="1.7" fill="#26a69a"/>
<rect x="637.6" y="677.1" width="7.8" height="1.7" fill="#26a69a"/>
<rect x="647.6" y="677.1" width="7.8" height="1.7" fill="#ef5350"/>
<rect x="656.6" y="676.2" width="7.8" height="2.6" fill="#ef5350"/>
<rect x="665.6" y="677.1" width="7.8" height="1.7" fill="#26a69a"/>
<rect x="675.6" y="677.1" width="7.8" height="1.7" fill="#26a69a"/>
<rect x="684.6" y="675.2" width="7.8" height="3.6" fill="#26a69a"/>
<rect x="693.6" y="673.2" width="7.8" height="5.6" fill="#26a69a"/>
<rect x="703.6" y="669.1" width="7.8" height="9.7" fill="#ef5350"/>
<rect x="712.6" y="674.2" width="7.8" height="4.6" fill="#ef5350"/>
<rect x="721.6" y="674.2" width="7.8" height="4.6" fill="#26a69a"/>
<rect x="731.6" y="676.2" width="7.8" height="2.6" fill="#ef5350"/>
<rect x="740.6" y="677.1" width="7.8" height="1.7" fill="#ef5350"/>
<rect x="750.6" y="677.1" width="7.8" height="1.7" fill="#26a69a"/>
<rect x="759.6" y="677.1" width="7.8" height="1.7" fill="#26a69a"/>
<rect x="768.6" y="677.1" width="7.8" height="1.7" fill="#26a69a"/>
<rect x="778.6" y="674.2" width="7.8" height="4.6" fill="#ef5350"/>
<rect x="787.6" y="677.1" width="7.8" height="1.7" fill="#26a69a"/>
<rect x="796.6" y="677.1" width="7.8" height="1.7" fill="#26a69a"/>
<rect x="806.6" y="675.6" width="7.8" height="3.2" fill="#ef5350"/>
<rect x="815.6" y="677.8" width="7.8" height="1.0" fill="#26a69a"/>
<rect x="824.6" y="675.6" width="7.8" height="3.2" fill="#26a69a"/>
<rect x="834.6" y="675.6" width="7.8" height="3.2" fill="#26a69a"/>
<rect x="843.6" y="677.1" width="7.8" height="1.7" fill="#26a69a"/>
<rect x="852.6" y="677.1" width="7.8" height="1.7" fill="#26a69a"/>
<rect x="862.6" y="677.1" width="7.8" height="1.7" fill="#26a69a"/>
<rect x="871.6" y="677.1" width="7.8" height="1.7" fill="#ef5350"/>
<rect x="881.6" y="674.2" width="7.8" height="4.6" fill="#26a69a"/>
<rect x="890.6" y="672.2" width="7.8" height="6.6" fill="#26a69a"/>
<rect x="899.6" y="676.2" width="7.8" height="2.6" fill="#26a69a"/>
<rect x="909.6" y="669.1" width="7.8" height="9.7" fill="#26a69a"/>
<rect x="918.6" y="673.2" width="7.8" height="5.6" fill="#ef5350"/>
<rect x="927.6" y="673.2" width="7.8" height="5.6" fill="#26a69a"/>
<rect x="937.6" y="672.2" width="7.8" height="6.6" fill="#26a69a"/>
<rect x="946.6" y="675.6" width="7.8" height="3.2" fill="#26a69a"/>
<rect x="955.6" y="675.6" width="7.8" height="3.2" fill="#26a69a"/>
<rect x="965.6" y="676.2" width="7.8" height="2.6" fill="#ef5350"/>
<rect x="974.6" y="674.2" width="7.8" height="4.6" fill="#26a69a"/>
<rect x="983.6" y="675.2" width="7.8" height="3.6" fill="#ef5350"/>
<rect x="993.6" y="676.2" width="7.8" height="2.6" fill="#26a69a"/>
<rect x="1002.6" y="669.1" width="7.8" height="9.7" fill="#26a69a"/>
<rect x="1011.6" y="676.2" width="7.8" height="2.6" fill="#26a69a"/>
<rect x="1021.6" y="675.2" width="7.8" height="3.6" fill="#26a69a"/>
<rect x="1030.6" y="668.1" width="7.8" height="10.7" fill="#ef5350"/>
<rect x="1040.6" y="675.2" width="7.8" height="3.6" fill="#26a69a"/>
<rect x="1049.6" y="670.2" width="7.8" height="8.6" fill="#26a69a"/>
<rect x="1058.6" y="674.2" width="7.8" height="4.6" fill="#ef5350"/>
<rect x="1068.6" y="669.1" width="7.8" height="9.7" fill="#26a69a"/>
<rect x="1077.6" y="662.1" width="7.8" height="16.7" fill="#00c805"/>
<rect x="1086.6" y="673.2" width="7.8" height="5.6" fill="#ef5350"/>
<rect x="1096.6" y="671.2" width="7.8" height="7.6" fill="#26a69a"/>
<rect x="1105.6" y="670.2" width="7.8" height="8.6" fill="#26a69a"/>
<rect x="1114.6" y="652.8" width="7.8" height="26.0" fill="#00c805"/>
<rect x="1124.6" y="638.0" width="7.8" height="40.8" fill="#00c805"/>
<rect x="1133.6" y="648.8" width="7.8" height="30.0" fill="#00c805"/>
<rect x="1142.6" y="652.8" width="7.8" height="26.0" fill="#00c805"/>
<rect x="1152.6" y="654.8" width="7.8" height="24.0" fill="#ff4f8d"/>
<rect x="1161.6" y="650.8" width="7.8" height="28.0" fill="#00c805"/>
<rect x="1171.6" y="656.8" width="7.8" height="22.0" fill="#00c805"/>
<rect x="1180.6" y="658.8" width="7.8" height="20.0" fill="#ef5350"/>
<rect x="1189.6" y="654.8" width="7.8" height="24.0" fill="#00c805"/>
<rect x="1199.6" y="656.8" width="7.8" height="22.0" fill="#ff4f8d"/>
<rect x="1208.6" y="656.8" width="7.8" height="22.0" fill="#00c805"/>
<rect x="1217.6" y="669.3" width="7.8" height="9.5" fill="#ef5350"/>
<line x1="1412.5" y1="678.5" x2="11" y2="678.5" stroke="#8a8d97" stroke-width="1" stroke-dasharray="5.5 5.6"/>
<polyline points="10.0,674.3 60.0,675.6 150.0,676.2 290.0,676.2 450.0,676.2 520.0,675.5 590.0,673.8 640.0,673.6 700.0,674.2 780.0,675.2 870.0,675.6 990.0,674.2 1070.0,672.2 1113.0,671.4 1135.0,668.2 1154.0,666.9 1190.0,664.0 1222.0,661.0" fill="none" stroke="#ffe83b" stroke-width="2" stroke-linejoin="round" stroke-linecap="round"/>
<polygon points="286.0,649.0 291.4,658.8 280.6,658.8" fill="#3cb54a"/>
<polygon points="585.0,649.0 590.4,658.8 579.6,658.8" fill="#3cb54a"/>
<polygon points="697.0,649.0 702.4,658.8 691.6,658.8" fill="#3cb54a"/>
<polygon points="894.0,649.0 899.4,658.8 888.6,658.8" fill="#3cb54a"/>
<polygon points="1081.0,649.0 1086.4,658.8 1075.6,658.8" fill="#3cb54a"/>
<rect x="1098.2" y="643.1" width="141.7" height="23.8" fill="#ef5350"/>
<rect x="1246.7" y="643.1" width="88.0" height="23.8" fill="#ef5350"/>
<rect x="1342.0" y="643.1" width="57.0" height="23.8" fill="#26a69a"/>
<text x="1102.6" y="658.9" font-size="13" fill="#fff" textLength="132.6" lengthAdjust="spacingAndGlyphs" stroke="#fff" stroke-width="0.3">SMA (20) : 2058.093K</text>
<text x="1252.3" y="658.9" font-size="13" fill="#fff" textLength="77.5" lengthAdjust="spacingAndGlyphs" stroke="#fff" stroke-width="0.3">Vol: 35.456K</text>
<text x="1351.9" y="658.9" font-size="13" fill="#fff" textLength="42.8" lengthAdjust="spacingAndGlyphs" stroke="#fff" stroke-width="0.3">RSI: 64</text>
<text x="1425.5" y="682.9" font-size="12" fill="#131722" textLength="6.1" lengthAdjust="spacingAndGlyphs">0</text>
<defs><linearGradient id="rbg" x1="0" y1="0" x2="1" y2="0"><stop offset="0.0004" stop-color="#f1eef6"/><stop offset="0.0099" stop-color="#f0eef6"/><stop offset="0.0188" stop-color="#efedf7"/><stop offset="0.0274" stop-color="#f0eef6"/><stop offset="0.0349" stop-color="#f1eef5"/><stop offset="0.0423" stop-color="#f3eef3"/><stop offset="0.0499" stop-color="#f2eef5"/><stop offset="0.0573" stop-color="#f3eef4"/><stop offset="0.0656" stop-color="#f4eef1"/><stop offset="0.0730" stop-color="#f3eef4"/><stop offset="0.0806" stop-color="#f3eef4"/><stop offset="0.0888" stop-color="#f4eef3"/><stop offset="0.0963" stop-color="#f1eef5"/><stop offset="0.1038" stop-color="#f3eef4"/><stop offset="0.1113" stop-color="#f4eef2"/><stop offset="0.1192" stop-color="#f7edee"/><stop offset="0.1270" stop-color="#f5edf0"/><stop offset="0.1345" stop-color="#f6edf0"/><stop offset="0.1420" stop-color="#f7edee"/><stop offset="0.1502" stop-color="#f7eded"/><stop offset="0.1577" stop-color="#f8edec"/><stop offset="0.1651" stop-color="#f5eef1"/><stop offset="0.1735" stop-color="#f3eef4"/><stop offset="0.1809" stop-color="#efedf7"/><stop offset="0.1884" stop-color="#efedf7"/><stop offset="0.1967" stop-color="#efedf7"/><stop offset="0.2042" stop-color="#f1eef6"/><stop offset="0.2116" stop-color="#f0eef6"/><stop offset="0.2195" stop-color="#f0eef6"/><stop offset="0.2271" stop-color="#efedf7"/><stop offset="0.2311" stop-color="#f0eef6"/><stop offset="0.2352" stop-color="#f2eef5"/><stop offset="0.2502" stop-color="#f2eef4"/><stop offset="0.2585" stop-color="#f5edf1"/><stop offset="0.2660" stop-color="#f5edf0"/><stop offset="0.2735" stop-color="#f6edef"/><stop offset="0.2817" stop-color="#f6edef"/><stop offset="0.2892" stop-color="#f4eef1"/><stop offset="0.2975" stop-color="#f5edf0"/><stop offset="0.3050" stop-color="#f5eef1"/><stop offset="0.3124" stop-color="#f9edec"/><stop offset="0.3203" stop-color="#faedea"/><stop offset="0.3282" stop-color="#feece4"/><stop offset="0.3357" stop-color="#fdece5"/><stop offset="0.3431" stop-color="#fcece7"/><stop offset="0.3506" stop-color="#fbece8"/><stop offset="0.3586" stop-color="#fdece5"/><stop offset="0.3664" stop-color="#feece4"/><stop offset="0.3742" stop-color="#feece5"/><stop offset="0.3822" stop-color="#feece4"/><stop offset="0.3901" stop-color="#feece4"/><stop offset="0.3976" stop-color="#faede9"/><stop offset="0.4050" stop-color="#fcece7"/><stop offset="0.4129" stop-color="#fcece7"/><stop offset="0.4208" stop-color="#feece4"/><stop offset="0.4283" stop-color="#fdece6"/><stop offset="0.4361" stop-color="#feece4"/><stop offset="0.4436" stop-color="#feece4"/><stop offset="0.4518" stop-color="#feece4"/><stop offset="0.4593" stop-color="#feece4"/><stop offset="0.4668" stop-color="#feece4"/><stop offset="0.4746" stop-color="#f4eef2"/><stop offset="0.4820" stop-color="#f6edef"/><stop offset="0.4901" stop-color="#f8eded"/><stop offset="0.4979" stop-color="#f8edec"/><stop offset="0.5053" stop-color="#f6edf0"/><stop offset="0.5133" stop-color="#f4eef2"/><stop offset="0.5286" stop-color="#f4eef2"/><stop offset="0.5365" stop-color="#f5edf1"/><stop offset="0.5444" stop-color="#f1eef6"/><stop offset="0.5518" stop-color="#f1eef6"/><stop offset="0.5596" stop-color="#eeedf8"/><stop offset="0.5672" stop-color="#e9ecfb"/><stop offset="0.5751" stop-color="#f0edf7"/><stop offset="0.5830" stop-color="#f1eef6"/><stop offset="0.5903" stop-color="#f0edf7"/><stop offset="0.5983" stop-color="#f1eef6"/><stop offset="0.6061" stop-color="#f1eef6"/><stop offset="0.6135" stop-color="#f1eef6"/><stop offset="0.6215" stop-color="#f0eef6"/><stop offset="0.6290" stop-color="#f0eef6"/><stop offset="0.6370" stop-color="#f2eef5"/><stop offset="0.6444" stop-color="#f1eef6"/><stop offset="0.6522" stop-color="#efedf7"/><stop offset="0.6602" stop-color="#f1eef6"/><stop offset="0.6677" stop-color="#f1eef6"/><stop offset="0.6754" stop-color="#f0eef6"/><stop offset="0.6835" stop-color="#f0eef6"/><stop offset="0.6912" stop-color="#f0edf7"/><stop offset="0.6992" stop-color="#efedf7"/><stop offset="0.7065" stop-color="#eeedf8"/><stop offset="0.7140" stop-color="#eeedf8"/><stop offset="0.7215" stop-color="#ebecfa"/><stop offset="0.7294" stop-color="#eaecfa"/><stop offset="0.7373" stop-color="#e9ecfb"/><stop offset="0.7447" stop-color="#e9ecfb"/><stop offset="0.7527" stop-color="#e9ecfb"/><stop offset="0.7605" stop-color="#e9ecfb"/><stop offset="0.7680" stop-color="#e9ecfb"/><stop offset="0.7912" stop-color="#e9ecfb"/><stop offset="0.7990" stop-color="#e9ecfb"/><stop offset="0.8227" stop-color="#e9ecfb"/><stop offset="0.8302" stop-color="#e9ecfb"/><stop offset="0.8373" stop-color="#e9ecfb"/><stop offset="0.8452" stop-color="#e9ecfb"/><stop offset="0.8529" stop-color="#e9ecfb"/><stop offset="0.8606" stop-color="#e9ecfb"/><stop offset="0.8687" stop-color="#ecedf9"/><stop offset="0.8764" stop-color="#eaecfa"/><stop offset="0.8838" stop-color="#e9ecfb"/><stop offset="0.8920" stop-color="#eaecfa"/><stop offset="0.8995" stop-color="#e9ecfb"/><stop offset="0.9071" stop-color="#e9ecfb"/><stop offset="0.9148" stop-color="#e9ecfb"/><stop offset="0.9228" stop-color="#e9ecfb"/><stop offset="0.9306" stop-color="#e9ecfb"/><stop offset="0.9381" stop-color="#e9ecfb"/><stop offset="0.9459" stop-color="#e9ecfb"/><stop offset="0.9535" stop-color="#e9ecfb"/><stop offset="0.9606" stop-color="#e9ecfb"/><stop offset="0.9688" stop-color="#eaecfa"/><stop offset="0.9764" stop-color="#e9ecfb"/><stop offset="0.9837" stop-color="#eaecfb"/><stop offset="0.9913" stop-color="#e9ecfb"/><stop offset="0.9996" stop-color="#ecedf9"/></linearGradient></defs>
<polygon points="10.0,715.5 965.0,715.5 1010.0,714.6 1050.0,713.6 1100.0,713.0 1125.0,711.6 1145.0,710.2 1221.5,710.2 1221.5,768.2 10.0,768.2" fill="url(#rbg)"/>
<rect x="10.0" y="731.4" width="1406.0" height="18.0" fill="#9c27b0" fill-opacity="0.1"/>
<polygon points="398.6,695.0 416.7,695.0 407.6,703.1" fill="#ffb1aa" fill-opacity="0.85"/>
<polygon points="473.4,695.0 491.7,695.0 482.5,703.1" fill="#ffb1aa" fill-opacity="0.85"/>
<polygon points="528.9,695.0 576.0,695.0 566.5,760.4 557.4,767.5 548.4,733.3 538.3,727.2" fill="#ff8a80" fill-opacity="0.62"/>
<polygon points="903.2,784.5 912.6,753.4 921.9,784.5" fill="#9fe0a8" fill-opacity="0.6"/>
<polygon points="969.9,784.5 988.6,768.9 1005.7,768.9 1014.4,784.5" fill="#9fe0a8" fill-opacity="0.6"/>
<polygon points="1015.2,784.5 1024.8,753.0 1033.9,768.5 1043.3,752.4 1052.6,752.4 1062.0,784.5" fill="#9fe0a8" fill-opacity="0.6"/>
<polygon points="1109.3,784.5 1118.3,768.5 1128.0,742.3 1137.4,714.2 1145.5,703.5 1155.9,784.5" fill="#9fe0a8" fill-opacity="0.6"/>
<polyline points="10.0,715.5 965.0,715.5 1010.0,714.6 1050.0,713.6 1100.0,713.0 1125.0,711.6 1145.0,710.2 1221.5,710.2" fill="none" stroke="#2fc23a" stroke-width="1.1" stroke-linejoin="round" stroke-linecap="round"/>
<line x1="10.0" y1="768.5" x2="1221.5" y2="768.5" stroke="#ff3325" stroke-width="1.1"/>
<line x1="10.0" y1="731.5" x2="1416.0" y2="731.5" stroke="#000" stroke-width="1.2"/>
<line x1="10.0" y1="749.5" x2="1416.0" y2="749.5" stroke="#000" stroke-width="1.2"/>
<line x1="10" y1="740.3" x2="1416" y2="740.3" stroke="#7d808c" stroke-width="0.9" stroke-dasharray="3.5 2 1 2"/>
<line x1="10.5" y1="738.7" x2="22.0" y2="736.7" stroke="#7e5385" stroke-width="1.9" stroke-linecap="round"/>
<line x1="22.0" y1="736.7" x2="32.8" y2="733.5" stroke="#72559a" stroke-width="1.9" stroke-linecap="round"/>
<line x1="32.8" y1="733.5" x2="43.2" y2="736.7" stroke="#72559a" stroke-width="1.9" stroke-linecap="round"/>
<line x1="43.2" y1="736.7" x2="52.3" y2="739.3" stroke="#805383" stroke-width="1.9" stroke-linecap="round"/>
<line x1="52.3" y1="739.3" x2="61.3" y2="742.9" stroke="#8e516b" stroke-width="1.9" stroke-linecap="round"/>
<line x1="61.3" y1="742.9" x2="70.4" y2="740.5" stroke="#915068" stroke-width="1.9" stroke-linecap="round"/>
<line x1="70.4" y1="740.5" x2="79.4" y2="741.9" stroke="#8f516b" stroke-width="1.9" stroke-linecap="round"/>
<line x1="79.4" y1="741.9" x2="89.5" y2="744.7" stroke="#974e5f" stroke-width="1.9" stroke-linecap="round"/>
<line x1="89.5" y1="744.7" x2="98.5" y2="741.9" stroke="#974e5f" stroke-width="1.9" stroke-linecap="round"/>
<line x1="98.5" y1="741.9" x2="107.6" y2="742.1" stroke="#925066" stroke-width="1.9" stroke-linecap="round"/>
<line x1="107.6" y1="742.1" x2="117.6" y2="743.1" stroke="#944f63" stroke-width="1.9" stroke-linecap="round"/>
<line x1="117.6" y1="743.1" x2="126.7" y2="739.3" stroke="#8f516b" stroke-width="1.9" stroke-linecap="round"/>
<line x1="126.7" y1="739.3" x2="135.7" y2="742.3" stroke="#8d526d" stroke-width="1.9" stroke-linecap="round"/>
<line x1="135.7" y1="742.3" x2="144.8" y2="744.3" stroke="#974e5f" stroke-width="1.9" stroke-linecap="round"/>
<line x1="144.8" y1="744.3" x2="154.4" y2="748.3" stroke="#a44a4e" stroke-width="1.9" stroke-linecap="round"/>
<line x1="154.4" y1="748.3" x2="163.9" y2="746.3" stroke="#a84949" stroke-width="1.9" stroke-linecap="round"/>
<line x1="163.9" y1="746.3" x2="172.9" y2="746.9" stroke="#a54a4d" stroke-width="1.9" stroke-linecap="round"/>
<line x1="172.9" y1="746.9" x2="182.0" y2="748.3" stroke="#a94847" stroke-width="1.9" stroke-linecap="round"/>
<line x1="182.0" y1="748.3" x2="192.0" y2="749.6" stroke="#b24a3e" stroke-width="1.9" stroke-linecap="round"/>
<line x1="192.0" y1="749.6" x2="201.0" y2="751.0" stroke="#bc4d35" stroke-width="1.9" stroke-linecap="round"/>
<line x1="201.0" y1="751.0" x2="210.0" y2="745.3" stroke="#ad4944" stroke-width="1.9" stroke-linecap="round"/>
<line x1="210.0" y1="745.3" x2="220.2" y2="741.9" stroke="#984e5d" stroke-width="1.9" stroke-linecap="round"/>
<line x1="220.2" y1="741.9" x2="229.2" y2="733.9" stroke="#7f5383" stroke-width="1.9" stroke-linecap="round"/>
<line x1="229.2" y1="733.9" x2="238.3" y2="734.9" stroke="#6e559f" stroke-width="1.9" stroke-linecap="round"/>
<line x1="238.3" y1="734.9" x2="248.3" y2="734.7" stroke="#70559c" stroke-width="1.9" stroke-linecap="round"/>
<line x1="248.3" y1="734.7" x2="257.4" y2="737.9" stroke="#785490" stroke-width="1.9" stroke-linecap="round"/>
<line x1="257.4" y1="737.9" x2="266.4" y2="737.3" stroke="#7e5386" stroke-width="1.9" stroke-linecap="round"/>
<line x1="266.4" y1="737.3" x2="275.9" y2="736.7" stroke="#7b548b" stroke-width="1.9" stroke-linecap="round"/>
<line x1="275.9" y1="736.7" x2="285.1" y2="733.3" stroke="#71559a" stroke-width="1.9" stroke-linecap="round"/>
<line x1="285.1" y1="733.3" x2="290.0" y2="736.3" stroke="#70559c" stroke-width="1.9" stroke-linecap="round"/>
<line x1="290.0" y1="736.3" x2="295.0" y2="740.9" stroke="#82537e" stroke-width="1.9" stroke-linecap="round"/>
<line x1="295.0" y1="740.9" x2="313.1" y2="741.3" stroke="#8e516b" stroke-width="1.9" stroke-linecap="round"/>
<line x1="313.1" y1="741.3" x2="323.2" y2="745.7" stroke="#984e5e" stroke-width="1.9" stroke-linecap="round"/>
<line x1="323.2" y1="745.7" x2="332.2" y2="746.3" stroke="#a24b50" stroke-width="1.9" stroke-linecap="round"/>
<line x1="332.2" y1="746.3" x2="341.3" y2="747.3" stroke="#a6494c" stroke-width="1.9" stroke-linecap="round"/>
<line x1="341.3" y1="747.3" x2="351.3" y2="747.3" stroke="#a84949" stroke-width="1.9" stroke-linecap="round"/>
<line x1="351.3" y1="747.3" x2="360.4" y2="744.7" stroke="#a24b50" stroke-width="1.9" stroke-linecap="round"/>
<line x1="360.4" y1="744.7" x2="370.4" y2="746.3" stroke="#a04b53" stroke-width="1.9" stroke-linecap="round"/>
<line x1="370.4" y1="746.3" x2="379.5" y2="745.3" stroke="#a24b51" stroke-width="1.9" stroke-linecap="round"/>
<line x1="379.5" y1="745.3" x2="388.5" y2="751.4" stroke="#ae4942" stroke-width="1.9" stroke-linecap="round"/>
<line x1="388.5" y1="751.4" x2="398.0" y2="753.8" stroke="#cd5226" stroke-width="1.9" stroke-linecap="round"/>
<line x1="398.0" y1="753.8" x2="407.6" y2="761.8" stroke="#ed5609" stroke-width="1.9" stroke-linecap="round"/>
<line x1="407.6" y1="761.8" x2="416.7" y2="759.0" stroke="#f24d07" stroke-width="1.9" stroke-linecap="round"/>
<line x1="416.7" y1="759.0" x2="425.7" y2="756.8" stroke="#ed5609" stroke-width="1.9" stroke-linecap="round"/>
<line x1="425.7" y1="756.8" x2="434.8" y2="755.8" stroke="#e7590d" stroke-width="1.9" stroke-linecap="round"/>
<line x1="434.8" y1="755.8" x2="444.4" y2="759.4" stroke="#ec5709" stroke-width="1.9" stroke-linecap="round"/>
<line x1="444.4" y1="759.4" x2="453.9" y2="761.8" stroke="#f24c06" stroke-width="1.9" stroke-linecap="round"/>
<line x1="453.9" y1="761.8" x2="463.3" y2="759.8" stroke="#f24b06" stroke-width="1.9" stroke-linecap="round"/>
<line x1="463.3" y1="759.8" x2="473.0" y2="762.4" stroke="#f34a06" stroke-width="1.9" stroke-linecap="round"/>
<line x1="473.0" y1="762.4" x2="482.6" y2="763.4" stroke="#f64304" stroke-width="1.9" stroke-linecap="round"/>
<line x1="482.6" y1="763.4" x2="491.7" y2="754.4" stroke="#ef5208" stroke-width="1.9" stroke-linecap="round"/>
<line x1="491.7" y1="754.4" x2="500.7" y2="756.8" stroke="#e25812" stroke-width="1.9" stroke-linecap="round"/>
<line x1="500.7" y1="756.8" x2="510.2" y2="757.4" stroke="#ec590a" stroke-width="1.9" stroke-linecap="round"/>
<line x1="510.2" y1="757.4" x2="519.8" y2="760.4" stroke="#ef5208" stroke-width="1.9" stroke-linecap="round"/>
<line x1="519.8" y1="760.4" x2="528.9" y2="758.0" stroke="#ef5108" stroke-width="1.9" stroke-linecap="round"/>
<line x1="528.9" y1="758.0" x2="538.3" y2="765.8" stroke="#f44705" stroke-width="1.9" stroke-linecap="round"/>
<line x1="538.3" y1="765.8" x2="547.4" y2="766.4" stroke="#fc3801" stroke-width="1.9" stroke-linecap="round"/>
<line x1="547.4" y1="766.4" x2="557.4" y2="769.5" stroke="#ff3200" stroke-width="1.9" stroke-linecap="round"/>
<line x1="557.4" y1="769.5" x2="566.5" y2="768.5" stroke="#ff3200" stroke-width="1.9" stroke-linecap="round"/>
<line x1="566.5" y1="768.5" x2="575.5" y2="761.4" stroke="#fa3c02" stroke-width="1.9" stroke-linecap="round"/>
<line x1="575.5" y1="761.4" x2="585.0" y2="744.3" stroke="#ce5224" stroke-width="1.9" stroke-linecap="round"/>
<line x1="585.0" y1="744.3" x2="594.0" y2="747.3" stroke="#a24b51" stroke-width="1.9" stroke-linecap="round"/>
<line x1="594.0" y1="747.3" x2="603.7" y2="750.4" stroke="#b24a3f" stroke-width="1.9" stroke-linecap="round"/>
<line x1="603.7" y1="750.4" x2="613.2" y2="750.8" stroke="#be4e33" stroke-width="1.9" stroke-linecap="round"/>
<line x1="613.2" y1="750.8" x2="622.2" y2="746.7" stroke="#b14a40" stroke-width="1.9" stroke-linecap="round"/>
<line x1="622.2" y1="746.7" x2="631.9" y2="743.7" stroke="#9f4c54" stroke-width="1.9" stroke-linecap="round"/>
<line x1="631.9" y1="743.7" x2="650.4" y2="743.7" stroke="#994e5d" stroke-width="1.9" stroke-linecap="round"/>
<line x1="650.4" y1="743.7" x2="660.0" y2="745.7" stroke="#9d4c57" stroke-width="1.9" stroke-linecap="round"/>
<line x1="660.0" y1="745.7" x2="669.5" y2="738.9" stroke="#935065" stroke-width="1.9" stroke-linecap="round"/>
<line x1="669.5" y1="738.9" x2="678.5" y2="737.7" stroke="#815380" stroke-width="1.9" stroke-linecap="round"/>
<line x1="678.5" y1="737.7" x2="688.0" y2="731.3" stroke="#6f559e" stroke-width="1.9" stroke-linecap="round"/>
<line x1="688.0" y1="731.3" x2="697.2" y2="721.6" stroke="#4050d1" stroke-width="1.9" stroke-linecap="round"/>
<line x1="697.2" y1="721.6" x2="706.7" y2="735.3" stroke="#4950ca" stroke-width="1.9" stroke-linecap="round"/>
<line x1="706.7" y1="735.3" x2="716.3" y2="738.7" stroke="#7b548b" stroke-width="1.9" stroke-linecap="round"/>
<line x1="716.3" y1="738.7" x2="725.2" y2="735.3" stroke="#7b548b" stroke-width="1.9" stroke-linecap="round"/>
<line x1="725.2" y1="735.3" x2="734.8" y2="737.9" stroke="#79548e" stroke-width="1.9" stroke-linecap="round"/>
<line x1="734.8" y1="737.9" x2="744.3" y2="738.9" stroke="#82537f" stroke-width="1.9" stroke-linecap="round"/>
<line x1="744.3" y1="738.9" x2="753.3" y2="737.9" stroke="#82537f" stroke-width="1.9" stroke-linecap="round"/>
<line x1="753.3" y1="737.9" x2="763.0" y2="736.7" stroke="#7c5488" stroke-width="1.9" stroke-linecap="round"/>
<line x1="763.0" y1="736.7" x2="772.0" y2="736.9" stroke="#7a548c" stroke-width="1.9" stroke-linecap="round"/>
<line x1="772.0" y1="736.9" x2="781.7" y2="739.9" stroke="#82537f" stroke-width="1.9" stroke-linecap="round"/>
<line x1="781.7" y1="739.9" x2="790.7" y2="738.3" stroke="#85537a" stroke-width="1.9" stroke-linecap="round"/>
<line x1="790.7" y1="738.3" x2="800.2" y2="733.3" stroke="#755494" stroke-width="1.9" stroke-linecap="round"/>
<line x1="800.2" y1="733.3" x2="809.8" y2="738.3" stroke="#755494" stroke-width="1.9" stroke-linecap="round"/>
<line x1="809.8" y1="738.3" x2="818.9" y2="737.9" stroke="#805382" stroke-width="1.9" stroke-linecap="round"/>
<line x1="818.9" y1="737.9" x2="828.3" y2="736.7" stroke="#7c5488" stroke-width="1.9" stroke-linecap="round"/>
<line x1="828.3" y1="736.7" x2="838.0" y2="736.3" stroke="#78548f" stroke-width="1.9" stroke-linecap="round"/>
<line x1="838.0" y1="736.3" x2="847.4" y2="735.3" stroke="#755494" stroke-width="1.9" stroke-linecap="round"/>
<line x1="847.4" y1="735.3" x2="857.1" y2="734.7" stroke="#71559a" stroke-width="1.9" stroke-linecap="round"/>
<line x1="857.1" y1="734.7" x2="865.9" y2="731.7" stroke="#6754a8" stroke-width="1.9" stroke-linecap="round"/>
<line x1="865.9" y1="731.7" x2="875.0" y2="732.3" stroke="#5f53b0" stroke-width="1.9" stroke-linecap="round"/>
<line x1="875.0" y1="732.3" x2="884.1" y2="724.8" stroke="#4950c9" stroke-width="1.9" stroke-linecap="round"/>
<line x1="884.1" y1="724.8" x2="893.7" y2="723.8" stroke="#3750d7" stroke-width="1.9" stroke-linecap="round"/>
<line x1="893.7" y1="723.8" x2="903.2" y2="720.2" stroke="#2d50de" stroke-width="1.9" stroke-linecap="round"/>
<line x1="903.2" y1="720.2" x2="912.2" y2="714.6" stroke="#2850e1" stroke-width="1.9" stroke-linecap="round"/>
<line x1="912.2" y1="714.6" x2="921.9" y2="721.8" stroke="#2850e1" stroke-width="1.9" stroke-linecap="round"/>
<line x1="921.9" y1="721.8" x2="931.3" y2="718.6" stroke="#2850e1" stroke-width="1.9" stroke-linecap="round"/>
<line x1="931.3" y1="718.6" x2="940.4" y2="718.6" stroke="#2850e1" stroke-width="1.9" stroke-linecap="round"/>
<line x1="940.4" y1="718.6" x2="968.5" y2="718.2" stroke="#2850e1" stroke-width="1.9" stroke-linecap="round"/>
<line x1="968.5" y1="718.2" x2="978.0" y2="716.6" stroke="#2850e1" stroke-width="1.9" stroke-linecap="round"/>
<line x1="978.0" y1="716.6" x2="1006.7" y2="715.8" stroke="#2850e1" stroke-width="1.9" stroke-linecap="round"/>
<line x1="1006.7" y1="715.8" x2="1015.8" y2="717.6" stroke="#2850e1" stroke-width="1.9" stroke-linecap="round"/>
<line x1="1015.8" y1="717.6" x2="1024.4" y2="713.8" stroke="#2850e1" stroke-width="1.9" stroke-linecap="round"/>
<line x1="1024.4" y1="713.8" x2="1033.9" y2="715.8" stroke="#2850e1" stroke-width="1.9" stroke-linecap="round"/>
<line x1="1033.9" y1="715.8" x2="1043.3" y2="714.2" stroke="#2850e1" stroke-width="1.9" stroke-linecap="round"/>
<line x1="1043.3" y1="714.2" x2="1052.6" y2="713.8" stroke="#2850e1" stroke-width="1.9" stroke-linecap="round"/>
<line x1="1052.6" y1="713.8" x2="1062.4" y2="727.8" stroke="#2850e1" stroke-width="1.9" stroke-linecap="round"/>
<line x1="1062.4" y1="727.8" x2="1071.7" y2="722.8" stroke="#3b50d5" stroke-width="1.9" stroke-linecap="round"/>
<line x1="1071.7" y1="722.8" x2="1080.7" y2="720.2" stroke="#2b50df" stroke-width="1.9" stroke-linecap="round"/>
<line x1="1080.7" y1="720.2" x2="1090.6" y2="723.2" stroke="#2c50de" stroke-width="1.9" stroke-linecap="round"/>
<line x1="1090.6" y1="723.2" x2="1099.8" y2="719.8" stroke="#2b50df" stroke-width="1.9" stroke-linecap="round"/>
<line x1="1099.8" y1="719.8" x2="1108.9" y2="719.2" stroke="#2850e1" stroke-width="1.9" stroke-linecap="round"/>
<line x1="1108.9" y1="719.2" x2="1118.3" y2="714.2" stroke="#2850e1" stroke-width="1.9" stroke-linecap="round"/>
<line x1="1118.3" y1="714.2" x2="1128.0" y2="711.7" stroke="#2850e1" stroke-width="1.9" stroke-linecap="round"/>
<line x1="1128.0" y1="711.7" x2="1137.4" y2="710.1" stroke="#2850e1" stroke-width="1.9" stroke-linecap="round"/>
<line x1="1137.4" y1="710.1" x2="1146.5" y2="710.1" stroke="#2850e1" stroke-width="1.9" stroke-linecap="round"/>
<line x1="1146.5" y1="710.1" x2="1155.9" y2="718.2" stroke="#2850e1" stroke-width="1.9" stroke-linecap="round"/>
<line x1="1155.9" y1="718.2" x2="1165.2" y2="716.2" stroke="#2850e1" stroke-width="1.9" stroke-linecap="round"/>
<line x1="1165.2" y1="716.2" x2="1173.8" y2="716.0" stroke="#2850e1" stroke-width="1.9" stroke-linecap="round"/>
<line x1="1173.8" y1="716.0" x2="1183.7" y2="723.2" stroke="#2850e1" stroke-width="1.9" stroke-linecap="round"/>
<line x1="1183.7" y1="723.2" x2="1192.9" y2="721.2" stroke="#2e50dd" stroke-width="1.9" stroke-linecap="round"/>
<line x1="1192.9" y1="721.2" x2="1201.8" y2="722.2" stroke="#2c50de" stroke-width="1.9" stroke-linecap="round"/>
<line x1="1201.8" y1="722.2" x2="1211.0" y2="721.2" stroke="#2c50de" stroke-width="1.9" stroke-linecap="round"/>
<line x1="1211.0" y1="721.2" x2="1221.0" y2="727.8" stroke="#3750d7" stroke-width="1.9" stroke-linecap="round"/>
<text x="1265.0" y="710.2" font-size="14" fill="#787b86" textLength="71.4" lengthAdjust="spacingAndGlyphs">Overbought</text>
<text x="1346.8" y="710.2" font-size="14" fill="#787b86" textLength="54.2" lengthAdjust="spacingAndGlyphs">Oversold</text>
<rect x="1260.0" y="718.2" width="81.9" height="22.5" fill="#26a69a" fill-opacity="0.22"/>
<rect x="1341.9" y="718.2" width="64.0" height="22.5" fill="#ef5350" fill-opacity="0.2"/>
<text x="1291.0" y="733.9" font-size="13" fill="#26a69a" textLength="20.5" lengthAdjust="spacingAndGlyphs">0 %</text>
<text x="1363.5" y="733.9" font-size="13" fill="#ef5350" textLength="20.5" lengthAdjust="spacingAndGlyphs">0 %</text>
<text x="1425.0" y="718.1" font-size="12" fill="#131722" textLength="29.4" lengthAdjust="spacingAndGlyphs">80.00</text>
<text x="1425.0" y="753.9" font-size="12" fill="#131722" textLength="29.4" lengthAdjust="spacingAndGlyphs">40.00</text>
<text x="1425.0" y="790.1" font-size="12" fill="#131722" textLength="23.2" lengthAdjust="spacingAndGlyphs">0.00</text>
<clipPath id="cl"><rect x="12.2" y="790" width="1468" height="32"/></clipPath>
<g clip-path="url(#cl)">
<text x="0.5" y="813.1" font-size="12" fill="#131722" textLength="48.3" lengthAdjust="spacingAndGlyphs">11:00 AM</text>
<text x="112.4" y="813.1" font-size="12" fill="#131722" textLength="48.3" lengthAdjust="spacingAndGlyphs">12:00 PM</text>
<text x="224.3" y="813.1" font-size="12" fill="#131722" textLength="48.3" lengthAdjust="spacingAndGlyphs">01:00 PM</text>
<text x="336.7" y="813.1" font-size="12" fill="#131722" textLength="48.3" lengthAdjust="spacingAndGlyphs">02:00 PM</text>
<text x="448.4" y="813.1" font-size="12" fill="#131722" textLength="48.3" lengthAdjust="spacingAndGlyphs">03:00 PM</text>
<text x="589.0" y="813.1" font-size="12" fill="#131722" textLength="48.3" lengthAdjust="spacingAndGlyphs">10:00 AM</text>
<text x="701.2" y="813.1" font-size="12" fill="#131722" textLength="48.3" lengthAdjust="spacingAndGlyphs">11:00 AM</text>
<text x="813.9" y="813.1" font-size="12" fill="#131722" textLength="48.3" lengthAdjust="spacingAndGlyphs">12:00 PM</text>
<text x="925.8" y="813.1" font-size="12" fill="#131722" textLength="48.3" lengthAdjust="spacingAndGlyphs">01:00 PM</text>
<text x="1038.0" y="813.1" font-size="12" fill="#131722" textLength="48.3" lengthAdjust="spacingAndGlyphs">02:00 PM</text>
<text x="1150.2" y="813.1" font-size="12" fill="#131722" textLength="48.3" lengthAdjust="spacingAndGlyphs">03:00 PM</text>
<text x="1291.2" y="813.1" font-size="12" fill="#131722" textLength="48.3" lengthAdjust="spacingAndGlyphs">10:00 AM</text>
<text x="525.9" y="813.1" font-size="12" fill="#131722" textLength="6.6" lengthAdjust="spacingAndGlyphs">7</text>
<text x="1224.8" y="813.1" font-size="12" fill="#131722" font-weight="bold" textLength="12.4" lengthAdjust="spacingAndGlyphs">10</text>
</g>
<path d="M12.3 845.1 H24.1 V859.9 H18.1 V851.1 H12.3 Z" fill="#131722"/>
<circle cx="28.4" cy="847.7" r="2.55" fill="#131722"/>
<path d="M33.5 845.1 H41.9 L36.4 859.9 H29.1 Z" fill="#131722"/>
<text x="49.3" y="859.6" font-size="20" fill="#131722" font-weight="bold" textLength="120.3" lengthAdjust="spacingAndGlyphs">TradingView</text>
</svg>
</body></html>
